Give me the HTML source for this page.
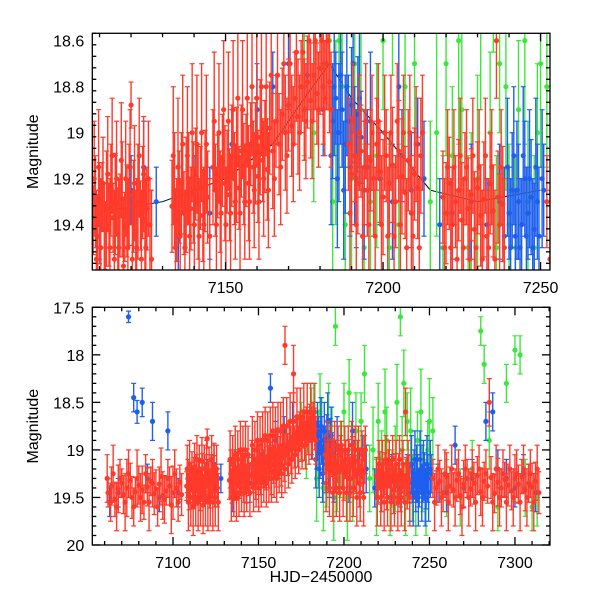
<!DOCTYPE html>
<html><head><meta charset="utf-8"><style>
body{margin:0;background:#fff}
svg{display:block}
text{font-family:"Liberation Sans",sans-serif;font-size:16px;fill:#000}
</style></head><body>
<svg id="chart" width="600" height="600" viewBox="0 0 600 600"></svg>
<script>
const redPts=[[7062,19.45,0.15],[7064,19.38,0.2],[7066,19.52,0.18],[7068,19.41,0.25],[7070,19.35,0.15],[7071,19.47,0.2],[7073,19.40,0.3],[7075,19.32,0.18],[7076,19.50,0.22],[7078,19.44,0.15],[7080,19.37,0.2],[7082,19.42,0.25],[7083,19.55,0.18],[7085,19.39,0.2],[7087,19.33,0.15],[7089,19.46,0.22],[7090,19.41,0.2],[7092,19.36,0.18],[7094,19.48,0.25],[7096,19.43,0.15],[7098,19.38,0.2],[7100,19.45,0.28],[7102,19.40,0.2],[7104,19.34,0.18],[7105,19.47,0.22],
[7108,19.38,0.15],[7108.7,19.30,0.2],[7109.4,19.45,0.18],[7110,19.35,0.22],[7110.8,19.28,0.15],[7111.5,19.42,0.2],[7112.2,19.33,0.25],[7113,19.40,0.18],[7113.6,19.25,0.2],[7114.3,19.37,0.15],[7115,19.31,0.22],[7115.8,19.44,0.2],[7116.5,19.36,0.18],[7117.2,19.29,0.25],[7118,19.41,0.15],[7118.7,19.34,0.2],[7119.4,19.27,0.22],[7120,18.88,0.1],[7120.8,19.32,0.2],[7121.5,19.43,0.18],[7122.2,19.30,0.25],[7123,19.36,0.15],[7123.7,19.26,0.2],[7124.4,19.38,0.22],[7125,19.33,0.18],[7126,19.40,0.2],
[7133,19.32,0.2],[7133.8,19.25,0.25],[7134.5,19.38,0.18],[7135.3,19.28,0.2],[7136,19.22,0.22],[7136.8,19.35,0.18],[7137.5,19.27,0.25],[7138.3,19.20,0.2],[7139,19.33,0.18],[7139.8,19.26,0.22],[7140.5,19.18,0.2],[7141.3,19.30,0.25],[7142,19.24,0.18],[7142.8,19.36,0.2],[7143.5,19.21,0.22],[7144.3,19.28,0.2],[7146,19.15,0.25],[7146.8,19.25,0.2],[7147.5,19.19,0.18],[7148.3,19.30,0.22],[7149,19.12,0.2],[7149.8,19.22,0.25],[7150.5,19.17,0.18],[7151.3,19.27,0.2],[7152,19.10,0.22],[7152.8,19.20,0.2],[7153.5,19.14,0.25],[7154.3,19.24,0.18],[7155,19.08,0.2],[7155.8,19.18,0.22],[7156.5,19.12,0.2],[7157.3,19.22,0.25],[7158,19.05,0.18],[7158.8,19.15,0.2],[7159.5,19.09,0.22],[7160.3,19.19,0.2],[7161,19.02,0.25],[7161.8,19.12,0.18],[7162.5,19.06,0.2],[7163.3,19.16,0.22],[7164,18.98,0.2],[7165,19.08,0.25],[7165.5,17.9,0.2],[7166,18.95,0.2],[7167,19.05,0.22],[7168,18.92,0.2],[7169,19.00,0.25],[7170,18.88,0.2],[7170.5,18.2,0.3],[7171,18.97,0.22],[7172,18.85,0.2],[7173,18.93,0.25],[7174,18.80,0.2],[7175,18.90,0.22],[7176,18.78,0.2],[7177,18.86,0.25],[7178,18.75,0.2],[7179,18.83,0.22],[7180,18.72,0.2],[7181,18.80,0.25],[7182,18.70,0.2],[7183,18.78,0.22],
[7189,19.05,0.2],[7190,19.18,0.25],[7191,19.10,0.2],[7192,19.22,0.22],[7193,19.08,0.2],[7194,19.15,0.25],[7195,19.25,0.2],[7196,19.12,0.22],[7197,19.20,0.25],[7198,19.05,0.2],[7199,19.17,0.22],[7200,19.28,0.25],[7201,19.10,0.2],[7202,19.22,0.22],[7203,19.14,0.25],[7204,19.30,0.2],[7205,19.08,0.22],[7206,19.19,0.25],[7207,19.26,0.2],[7208,19.12,0.22],[7209,19.35,0.25],[7210,19.18,0.2],[7211,19.24,0.22],[7212,19.10,0.25],
[7219,19.28,0.2],[7220,19.35,0.22],[7221,19.22,0.2],[7222,19.40,0.25],[7223,19.30,0.2],[7224,19.25,0.22],[7225,19.38,0.25],[7226,19.20,0.2],[7227,19.33,0.22],[7228,19.27,0.2],[7229,19.42,0.25],[7230,19.24,0.2],[7231,19.36,0.22],[7232,19.29,0.25],[7233,19.45,0.2],[7234,19.22,0.22],[7235,19.34,0.2],[7236,18.6,0.25],[7236.5,19.28,0.2],[7237,19.40,0.22],[7238,19.31,0.25],
[7252,19.30,0.2],[7254,19.40,0.18],[7256,19.33,0.22],[7258,19.45,0.2],[7260,19.28,0.25],[7262,19.38,0.2],[7264,19.42,0.18],[7266,19.32,0.22],[7268,19.48,0.2],[7270,19.36,0.25],[7272,19.30,0.2],[7274,19.41,0.18],[7276,19.35,0.22],[7278,19.27,0.2],[7280,19.44,0.25],[7282,19.33,0.2],[7284,19.38,0.18],[7285,18.5,0.25],[7286,19.29,0.22],[7288,19.46,0.2],[7290,19.34,0.25],[7292,19.40,0.2],[7294,19.31,0.18],[7296,19.37,0.22],[7298,19.43,0.2],[7300,19.30,0.25],[7302,19.36,0.2],[7304,19.28,0.18],[7306,19.42,0.22],[7308,19.35,0.2],[7310,19.39,0.25],[7312,19.33,0.2],[7314,19.45,0.22]];
const redPts2=[[7061.5,19.3,0.25],[7063.5,19.55,0.2],[7065,19.25,0.3],[7067,19.6,0.25],[7069,19.3,0.2],[7072,19.55,0.3],[7074,19.25,0.25],[7077,19.6,0.2],[7079,19.3,0.3],[7081,19.5,0.25],[7084,19.25,0.2],[7086,19.55,0.3],[7088,19.35,0.25],[7091,19.6,0.2],[7093,19.28,0.3],[7095,19.52,0.25],[7097,19.3,0.2],[7099,19.58,0.3],[7101,19.25,0.25],[7103,19.55,0.2],
[7108.3,19.2,0.25],[7109,19.55,0.3],[7109.7,19.15,0.25],[7110.4,19.5,0.3],[7111.1,19.22,0.2],[7111.8,19.6,0.3],[7112.6,19.18,0.25],[7113.3,19.5,0.3],[7114,19.1,0.25],[7114.7,19.55,0.3],[7115.4,19.2,0.25],[7116.1,19.5,0.3],[7116.9,19.12,0.25],[7117.6,19.58,0.3],[7118.3,19.2,0.25],[7119,19.5,0.3],[7119.7,19.15,0.25],[7120.4,19.55,0.3],[7121.1,19.22,0.25],[7121.8,19.5,0.3],[7122.6,19.1,0.25],[7123.3,19.55,0.3],[7124,19.18,0.25],[7124.7,19.5,0.3],[7125.5,19.2,0.25],[7126.5,19.55,0.3],
[7133.4,19.1,0.3],[7134.1,19.5,0.25],[7134.9,19.15,0.3],[7135.6,19.45,0.25],[7136.4,19.05,0.3],[7137.1,19.5,0.25],[7137.9,19.1,0.3],[7138.6,19.45,0.25],[7139.4,19.0,0.3],[7140.1,19.4,0.25],[7140.9,19.05,0.3],[7141.6,19.45,0.25],[7142.4,19.0,0.3],[7143.1,19.4,0.25],[7143.9,19.05,0.3],[7145,19.45,0.25],[7146.4,18.95,0.3],[7147.1,19.4,0.25],[7147.9,19.0,0.3],[7148.6,19.35,0.25],[7149.4,18.9,0.3],[7150.1,19.4,0.25],[7150.9,18.95,0.3],[7151.6,19.35,0.25],[7152.4,18.9,0.3],[7153.1,19.3,0.25],[7153.9,18.85,0.3],[7154.6,19.35,0.25],[7155.4,18.9,0.3],[7156.1,19.3,0.25],[7156.9,18.85,0.3],[7157.6,19.3,0.25],[7158.4,18.8,0.3],[7159.1,19.25,0.25],[7159.9,18.85,0.3],[7160.6,19.3,0.25],[7161.4,18.8,0.3],[7162.1,19.2,0.25],[7162.9,18.8,0.3],[7163.6,19.25,0.25],[7164.5,18.75,0.3],[7165.5,19.2,0.25],[7166.5,18.75,0.3],[7167.5,19.15,0.25],[7168.5,18.7,0.3],[7169.5,19.1,0.25],[7170.5,18.7,0.3],[7171.5,19.05,0.25],[7172.5,18.65,0.3],[7173.5,19.0,0.25],[7174.5,18.65,0.3],[7175.5,18.95,0.25],[7176.5,18.6,0.3],[7177.5,18.95,0.25],[7178.5,18.6,0.3],[7179.5,18.9,0.25],[7180.5,18.6,0.3],[7181.5,18.85,0.25],[7182.5,18.6,0.3],[7183.5,18.9,0.25],
[7189.5,19.35,0.3],[7190.5,18.95,0.25],[7191.5,19.4,0.3],[7192.5,19.0,0.25],[7193.5,19.45,0.3],[7194.5,18.95,0.25],[7195.5,19.4,0.3],[7196.5,19.0,0.25],[7197.5,19.45,0.3],[7198.5,18.95,0.25],[7199.5,19.4,0.3],[7200.5,19.0,0.25],[7201.5,19.45,0.3],[7202.5,19.0,0.25],[7203.5,19.45,0.3],[7204.5,18.95,0.25],[7205.5,19.4,0.3],[7206.5,19.0,0.25],[7207.5,19.5,0.3],[7208.5,19.0,0.25],[7209.5,19.45,0.3],[7210.5,19.05,0.25],[7211.5,19.5,0.3],[7212.5,19.0,0.25],
[7219.5,19.5,0.3],[7220.5,19.15,0.25],[7221.5,19.5,0.3],[7222.5,19.15,0.25],[7223.5,19.55,0.3],[7224.5,19.1,0.25],[7225.5,19.5,0.3],[7226.5,19.15,0.25],[7227.5,19.55,0.3],[7228.5,19.1,0.25],[7229.5,19.5,0.3],[7230.5,19.15,0.25],[7231.5,19.55,0.3],[7232.5,19.1,0.25],[7233.5,19.5,0.3],[7234.5,19.15,0.25],[7235.5,19.55,0.3],[7237.5,19.15,0.25],[7238.5,19.5,0.3],
[7253,19.55,0.3],[7255,19.2,0.25],[7257,19.5,0.3],[7259,19.25,0.25],[7261,19.55,0.3],[7263,19.2,0.25],[7265,19.5,0.3],[7267,19.25,0.25],[7269,19.6,0.3],[7271,19.2,0.25],[7273,19.5,0.3],[7275,19.25,0.25],[7277,19.55,0.3],[7279,19.2,0.25],[7281,19.5,0.3],[7283,19.25,0.25],[7287,19.55,0.3],[7289,19.2,0.25],[7291,19.5,0.3],[7293,19.25,0.25],[7295,19.55,0.3],[7297,19.2,0.25],[7299,19.5,0.3],[7301,19.25,0.25],[7303,19.55,0.3],[7305,19.2,0.25],[7307,19.5,0.3],[7309,19.25,0.25],[7311,19.55,0.3],[7313,19.2,0.25]];
const bluePts=[[7063,19.55,0.15],[7068,19.45,0.15],[7074,17.6,0.06],[7077,18.45,0.15],[7079,18.6,0.12],[7082,18.5,0.15],[7085,19.3,0.15],[7088,18.7,0.2],[7092,19.5,0.15],[7097,18.8,0.2],[7103,19.45,0.15],[7110,19.4,0.15],[7115,19.3,0.2],[7120,19.25,0.15],[7124,19.15,0.2],[7128,19.3,0.15],[7135,19.45,0.2],[7140,19.25,0.15],[7145,19.35,0.2],[7152,19.05,0.15],[7157,18.35,0.15],[7160,18.9,0.2],[7165,18.8,0.15],[7170,18.7,0.2],[7176,18.75,0.15],[7181,18.9,0.2],[7184,18.95,0.25],[7185,18.85,0.2],[7186,19.0,0.3],[7187,18.9,0.25],[7188,19.05,0.3],[7189,18.95,0.2],[7190,18.88,0.25],[7191,19.1,0.3],[7192,18.92,0.25],[7193,19.02,0.2],[7195,19.15,0.25],[7199,19.2,0.2],[7203,19.3,0.25],[7206,19.1,0.2],[7209,19.25,0.25],[7211,19.05,0.2],[7213,19.2,0.25],[7218,19.4,0.2],[7222,19.35,0.2],[7228,19.3,0.25],[7233,19.4,0.2],[7237,19.3,0.25],[7240,19.35,0.2],[7241,19.25,0.25],[7242,19.45,0.2],[7243,19.3,0.25],[7244,19.4,0.2],[7245,19.2,0.25],[7246,19.35,0.2],[7247,19.28,0.25],[7248,19.42,0.2],[7249,19.3,0.25],[7251,19.25,0.2],[7255,19.35,0.2],[7260,19.45,0.2],[7265,18.95,0.2],[7270,19.4,0.2],[7275,19.3,0.2],[7283,18.7,0.2],[7287,18.6,0.2],[7290,19.2,0.2],[7295,19.3,0.2],[7300,19.4,0.2],[7305,19.25,0.2],[7308,19.35,0.2],[7312,19.45,0.2],
[7183.5,19.1,0.3],[7184.5,18.8,0.3],[7185.5,19.2,0.3],[7186.5,18.75,0.3],[7187.5,19.25,0.3],[7188.5,18.8,0.3],[7189.5,19.15,0.3],[7190.5,18.7,0.3],[7191.5,19.2,0.3],[7192.5,18.85,0.3],[7194,19.25,0.3],[7196,18.95,0.3],[7205,18.8,0.3],[7238.5,19.45,0.3],[7239.5,19.15,0.3],[7240.5,19.5,0.3],[7241.5,19.1,0.3],[7242.5,19.25,0.3],[7243.5,19.5,0.3],[7244.5,19.1,0.3],[7245.5,19.45,0.3],[7246.5,19.2,0.3],[7247.5,19.5,0.3],[7248.5,19.15,0.3],[7249.5,19.45,0.3],[7250.5,19.2,0.3]];
const greenPts=[[7175,18.8,0.3],[7178,19.0,0.3],[7181,18.7,0.35],[7183,18.6,0.3],[7185,19.0,0.4],[7187,18.8,0.35],[7190,19.2,0.4],[7193,18.9,0.35],[7195,17.7,0.2],[7196,19.3,0.35],[7200,18.6,0.3],[7205,19.4,0.35],[7210,18.7,0.3],[7212,18.2,0.3],[7215,19.3,0.35],[7220,18.7,0.4],[7222,19.1,0.3],[7225,18.9,0.35],[7228,19.3,0.3],[7231,18.5,0.4],[7233,17.6,0.2],[7234,19.0,0.35],[7237,18.7,0.3],[7240,19.4,0.35],[7243,18.9,0.3],[7246,19.3,0.35],[7249,19.0,0.3],[7252,18.8,0.35],[7260,19.4,0.3],[7268,19.5,0.3],[7275,19.2,0.3],[7280,17.75,0.15],[7282,18.1,0.2],[7285,18.9,0.3],[7290,19.6,0.25],[7295,18.3,0.2],[7300,17.95,0.15],[7303,18.0,0.2],[7306,19.4,0.3],[7310,19.6,0.25],[7313,19.5,0.3],
[7184,19.3,0.45],[7186,18.6,0.4],[7188,19.4,0.45],[7191,18.7,0.4],[7194,19.5,0.45],[7198,19.1,0.4],[7202,19.5,0.45],[7207,18.8,0.4],[7217,19.0,0.45],[7219,19.5,0.4],[7224,18.6,0.45],[7227,19.5,0.4],[7230,19.2,0.45],[7236,19.5,0.4],[7239,18.8,0.45],[7242,19.5,0.4],[7245,18.6,0.45],[7248,19.5,0.4],[7250,18.7,0.45],[7203,18.4,0.35],[7235,18.3,0.35]];
const modelT=[7108,7130,7150,7165,7175,7183,7190,7200,7215,7230,7250];
const modelM=[19.35,19.3,19.2,19.05,18.85,18.7,18.85,19.0,19.25,19.3,19.25];
const topXTicks=[7150,7200,7250];
const topYTicks=[18.6,18.8,19,19.2,19.4];
const botXTicks=[7100,7150,7200,7250,7300];
const botYTicks=[17.5,18,18.5,19,19.5,20];

const NS="http://www.w3.org/2000/svg";
const svg=document.getElementById('chart');
function mk(tag,attrs,parent){const e=document.createElementNS(NS,tag);for(const k in attrs)e.setAttribute(k,attrs[k]);(parent||svg).appendChild(e);return e;}
const panels=[
 {id:'top',x0:92.3,x1:550,y0:33.3,y1:270,dx:[7107.7,7253],dy:[18.568,19.597],xt:topXTicks,yt:topYTicks,xminor:10,yminor:0.05,model:true},
 {id:'bottom',x0:92.3,x1:550,y0:307.3,y1:545,dx:[7052.8,7320.5],dy:[17.5,20],xt:botXTicks,yt:botYTicks,xminor:10,yminor:0.1,model:false}
];
panels.forEach(function(p){
 const sx=v=>p.x0+(v-p.dx[0])/(p.dx[1]-p.dx[0])*(p.x1-p.x0);
 const sy=v=>p.y0+(v-p.dy[0])/(p.dy[1]-p.dy[0])*(p.y1-p.y0);
 const g=mk('g',{});
 
 
 const cid='clip-'+p.id;
 const cp=mk('clipPath',{id:cid},g);mk('rect',{x:p.x0,y:p.y0,width:p.x1-p.x0,height:p.y1-p.y0},cp);
 const plot=mk('g',{'clip-path':'url(#'+cid+')'},g);
 
 
 if(p.model){
  const pl=mk('polyline',{points:modelT.map((t,i)=>sx(t)+','+sy(modelM[i])).join(' '),fill:'none',stroke:'#000','stroke-width':1},plot);
  
  
 }
 function series(pts,color,name){
  const sg=mk('g',{stroke:color,fill:color},plot);
  
  
  pts.forEach(function(d){
   const x=sx(d[0]),y=sy(d[1]),ya=sy(d[1]-d[2]),yb=sy(d[1]+d[2]);
   const pt=mk('g',{},sg);
   
   
   mk('line',{x1:x,x2:x,y1:ya,y2:yb,'stroke-width':1.4},pt);
   mk('line',{x1:x-2.5,x2:x+2.5,y1:ya,y2:ya,'stroke-width':1.2},pt);
   mk('line',{x1:x-2.5,x2:x+2.5,y1:yb,y2:yb,'stroke-width':1.2},pt);
   mk('circle',{cx:x,cy:y,r:2.6,stroke:'none'},pt);
  });
 }
 series(greenPts,'#3ae83a','green');
 series(bluePts,'#1f5fef','blue');
 series(redPts2,'#ff3a2a','red-extra');
 series(redPts,'#ff3a2a','red');
 const ax=mk('g',{stroke:'#000','stroke-width':1.3,fill:'none'},g);
 
 
 mk('rect',{x:p.x0,y:p.y0,width:p.x1-p.x0,height:p.y1-p.y0},ax);
 for(let v=Math.ceil(p.dx[0]/p.xminor)*p.xminor;v<=p.dx[1];v+=p.xminor){
  const major=v%50===0;const L=major?8:4;const x=sx(v);
  mk('line',{x1:x,x2:x,y1:p.y1,y2:p.y1-L},ax);mk('line',{x1:x,x2:x,y1:p.y0,y2:p.y0+L},ax);
 }
 const n=Math.round((p.dy[1]-p.dy[0])/p.yminor)+2;
 for(let i=-1;i<n;i++){
  const v=Math.round((p.dy[0]+i*p.yminor)*1000)/1000; if(v<p.dy[0]-1e-6||v>p.dy[1]+1e-6)continue;
  const major=p.yt.some(t=>Math.abs(t-v)<1e-6);const L=major?8:4;const y=sy(v);
  mk('line',{x1:p.x0,x2:p.x0+L,y1:y,y2:y},ax);mk('line',{x1:p.x1,x2:p.x1-L,y1:y,y2:y},ax);
 }
 p.xt.forEach(function(t){const e=mk('text',{x:sx(t),y:p.y1+23,'text-anchor':'middle'},g);e.textContent=t;
  });
 p.yt.forEach(function(t){const e=mk('text',{x:p.x0-8,y:sy(t)+6,'text-anchor':'end'},g);e.textContent=t;
  });
 const yl=mk('text',{x:0,y:0,transform:'translate(38,'+((p.y0+p.y1)/2)+') rotate(-90)','text-anchor':'middle','font-size':'15'},g);
 yl.textContent='Magnitude';
 
 
});
const xl=mk('text',{x:321,y:582,'text-anchor':'middle','font-size':'15','font-family':'Liberation Mono, monospace'});
xl.textContent='HJD\u22122450000';


</script>
</body></html>
